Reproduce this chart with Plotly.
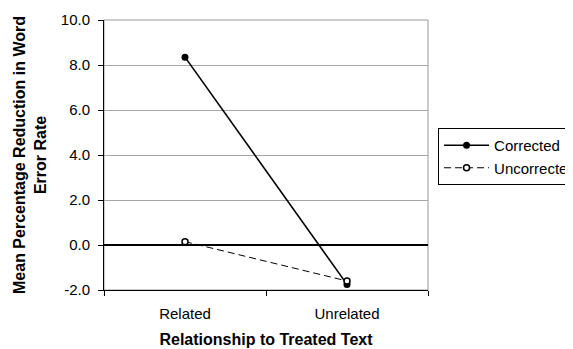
import plotly.graph_objects as go

categories = ["Related", "Unrelated"]
corrected = [8.35, -1.75]
uncorrected = [0.15, -1.6]
y_ticks = [-2.0, 0.0, 2.0, 4.0, 6.0, 8.0, 10.0]
y_tick_labels = ["-2.0", "0.0", "2.0", "4.0", "6.0", "8.0", "10.0"]

FONT = "Liberation Sans, Arial, sans-serif"

fig = go.Figure()
fig.add_trace(go.Scatter(
    x=categories, y=corrected, name="Corrected", mode="lines+markers",
    line=dict(color="black", width=1.6),
    marker=dict(symbol="circle", size=7, color="black"),
))
fig.add_trace(go.Scatter(
    x=categories, y=uncorrected, name="Uncorrected", mode="lines+markers",
    line=dict(color="black", width=1, dash="7px,4px"),
    marker=dict(symbol="circle", size=6, color="white", line=dict(color="black", width=1.5)),
))

fig.add_shape(type="rect", xref="paper", yref="paper", x0=0, x1=1, y0=0, y1=1,
              line=dict(color="#999999", width=1), layer="below")

fig.update_layout(
    width=573, height=349,
    margin=dict(l=96, r=153, t=12, b=67, autoexpand=False),
    paper_bgcolor="white", plot_bgcolor="white",
    font=dict(family=FONT, size=15, color="black"),
    showlegend=True,
    legend=dict(
        x=1.031, y=0.6, xanchor="left", yanchor="top",
        bordercolor="black", borderwidth=1, bgcolor="white",
        font=dict(family=FONT, size=15, color="black"),
        tracegroupgap=0, itemwidth=45,
    ),
    xaxis=dict(
        type="category", range=[-0.5, 1.5], automargin=False,
        showgrid=False, zeroline=False,
        showline=True, linecolor="black", linewidth=1,
        ticks="outside", tickson="boundaries", ticklen=5, tickcolor="black",
        tickfont=dict(family=FONT, size=15), ticklabelstandoff=10,
        title=dict(text="<b>Relationship to Treated Text</b>",
                   font=dict(family=FONT, size=16), standoff=12),
    ),
    yaxis=dict(
        range=[-2, 10], tickvals=y_ticks, ticktext=y_tick_labels, automargin=False,
        showgrid=True, gridcolor="#a6a6a6", gridwidth=1,
        zeroline=True, zerolinecolor="black", zerolinewidth=1.5,
        showline=True, linecolor="black", linewidth=1,
        ticks="outside", ticklen=5, tickcolor="black",
        tickfont=dict(family=FONT, size=15), ticklabelstandoff=5,
        title=dict(text="<b>Mean Percentage Reduction in Word<br>Error Rate</b>",
                   font=dict(family=FONT, size=16), standoff=10),
    ),
)

fig.write_html("out.html")
